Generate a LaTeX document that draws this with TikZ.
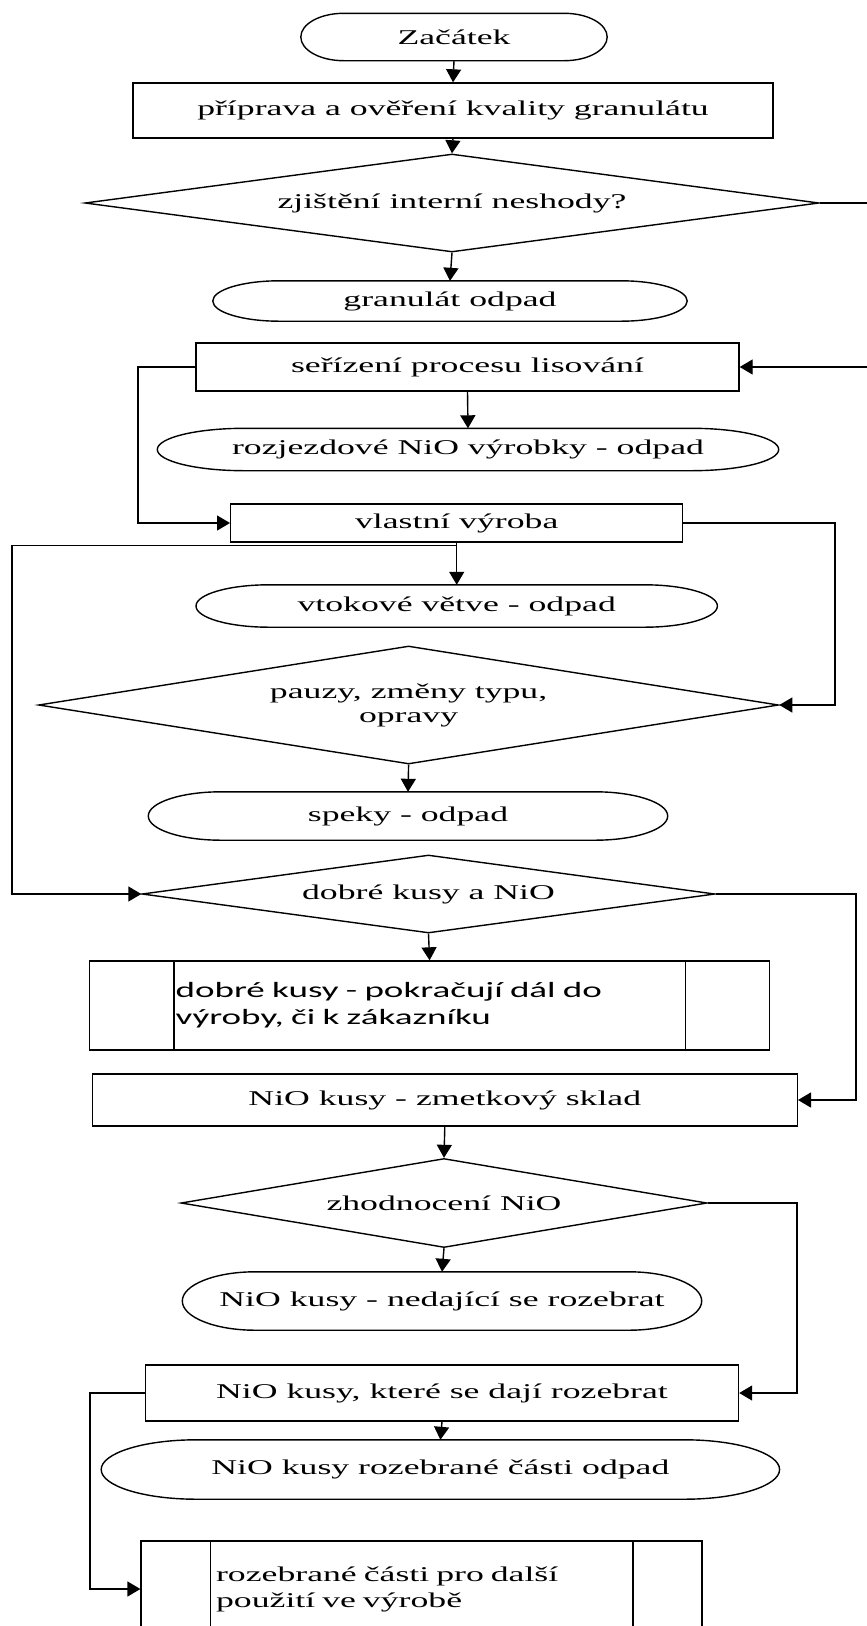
\documentclass[tikz,border=0pt]{standalone}
\usepackage{fontspec}
\setmainfont{Liberation Serif}[FakeStretch=1.7]
\newfontfamily\calfont{Carlito}[FakeStretch=1.7]
\usetikzlibrary{shapes.geometric, arrows.meta, calc}

\tikzset{
    flowline/.style={line width=1.4pt},
    arr/.style={flowline, -{Triangle[length=13pt,width=15pt]}},
    term/.style={inner sep=0pt, align=center},
    procbox/.style={draw, flowline, rectangle, inner sep=0pt, align=center},
    decision/.style={draw, flowline, diamond, inner sep=0pt, align=center},
    predef/.style={draw, flowline, rectangle, align=left, inner ysep=0pt},
}

% terminal outline with elliptic ends
\newcommand{\termline}[1]{%
  \draw[flowline] let \p1=($(#1.north east)-(#1.south west)$) in
    ([xshift=0.14*\x1]#1.north west) -- ([xshift=-0.14*\x1]#1.north east)
    arc[start angle=90, end angle=-90, x radius=0.14*\x1, y radius=0.5*\y1]
    -- ([xshift=0.14*\x1]#1.south west)
    arc[start angle=270, end angle=90, x radius=0.14*\x1, y radius=0.5*\y1]
    -- cycle;}

\begin{document}
\begin{tikzpicture}[x=1pt, y=-1pt, font=\fontsize{21}{24}\selectfont]
    \useasboundingbox (0,0) rectangle (867,1626);
    \clip (0,0) rectangle (867,1626);

    % Nodes
    \node[term, minimum width=306, minimum height=47] (start) at (454,37) {Začátek};
    \node[procbox, minimum width=640, minimum height=55] (prep) at (453,110.5) {příprava a ověření kvality granulátu};
    \node[decision, minimum width=734, minimum height=98, aspect=7.5] (chk) at (452,203) {zjištění interní neshody?};
    \node[term, minimum width=474, minimum height=40] (granodpad) at (450,301) {granulát odpad};
    \node[procbox, minimum width=543, minimum height=48] (serizeni) at (467.5,367) {seřízení procesu lisování};
    \node[term, minimum width=621, minimum height=42] (rozjezd) at (468,449.5) {rozjezdové NiO výrobky - odpad};
    \node[procbox, minimum width=452, minimum height=38] (vyroba) at (456.7,523) {vlastní výroba};
    \node[term, minimum width=521, minimum height=42] (vtok) at (456.7,606) {vtokové větve - odpad};
    \node[decision, minimum width=740, minimum height=118, aspect=6.3] (pauzy) at (408.6,705) {pauzy, změny typu,\\opravy};
    \node[term, minimum width=519, minimum height=48] (speky) at (408,816) {speky - odpad};
    \node[decision, minimum width=573, minimum height=78, aspect=7.3] (kusy) at (428.5,894) {dobré kusy a NiO};
    \node[predef, minimum height=89, text width=508, inner xsep=86, font=\calfont\fontsize{21.8}{27}\selectfont] (dalsi) at (429.6,1005.5) {dobré kusy - pokračují dál do\\výroby, či k zákazníku};
    \node[procbox, minimum width=705, minimum height=52] (sklad) at (444.8,1100) {NiO kusy - zmetkový sklad};
    \node[decision, minimum width=526, minimum height=89, aspect=5.9] (zhodnoc) at (444,1203) {zhodnocení NiO};
    \node[term, minimum width=519, minimum height=58] (nedaji) at (442,1301) {NiO kusy - nedající se rozebrat};
    \node[procbox, minimum width=593, minimum height=56] (rozebrat) at (442,1393) {NiO kusy, které se dají rozebrat};
    \node[term, minimum width=678, minimum height=59] (castiodpad) at (440.4,1469.5) {NiO kusy rozebrané části odpad};
    \node[predef, minimum height=96, text width=411, inner xsep=75, font=\fontsize{21}{26}\selectfont] (pouziti) at (421.6,1589) {rozebrané části pro další\\použití ve výrobě};

    % Outlines
    \foreach \t in {start,granodpad,rozjezd,vtok,speky,nedaji,castiodpad}
        \termline{\t};
    \draw[flowline] ([xshift=85]dalsi.north west) -- ([xshift=85]dalsi.south west);
    \draw[flowline] ([xshift=-85]dalsi.north east) -- ([xshift=-85]dalsi.south east);
    \draw[flowline] ([xshift=70]pouziti.north west) -- ([xshift=70]pouziti.south west);
    \draw[flowline] ([xshift=-70]pouziti.north east) -- ([xshift=-70]pouziti.south east);

    % Side lines
    \coordinate (rx1) at (885,0);
    \coordinate (rx2) at (835,0);
    \coordinate (rx3) at (856,0);
    \coordinate (rx4) at (797,0);
    \coordinate (lx1) at (138,0);
    \coordinate (lx2) at (12,0);
    \coordinate (lx3) at (90,0);
    \coordinate (br) at ([yshift=-3pt]vyroba.south);

    % Connectors
    \draw[arr] (start.south) -- (prep.north);
    \draw[arr] (prep.south) -- (chk.north);
    \draw[arr] (chk.south) -- (granodpad.north);
    \draw[arr] (chk.east) -- (chk.east -| rx1) |- (serizeni.east);
    \draw[arr] (serizeni.south) -- (rozjezd.north);
    \draw[arr] (serizeni.west) -- (serizeni.west -| lx1) |- (vyroba.west);
    \draw[arr] (vyroba.east) -- (vyroba.east -| rx2) |- (pauzy.east);
    \draw[arr] (vyroba.south) -- (vtok.north);
    \draw[arr] (br) -- (br -| lx2) |- (kusy.west);
    \draw[arr] (pauzy.south) -- (speky.north);
    \draw[arr] (kusy.east) -- (kusy.east -| rx3) |- (sklad.east);
    \draw[arr] (kusy.south) -- (dalsi.north);
    \draw[arr] (sklad.south) -- (zhodnoc.north);
    \draw[arr] (zhodnoc.east) -- (zhodnoc.east -| rx4) |- (rozebrat.east);
    \draw[arr] (zhodnoc.south) -- (nedaji.north);
    \draw[arr] (rozebrat.south) -- (castiodpad.north);
    \draw[arr] (rozebrat.west) -- (rozebrat.west -| lx3) |- (pouziti.west);
\end{tikzpicture}
\end{document}
